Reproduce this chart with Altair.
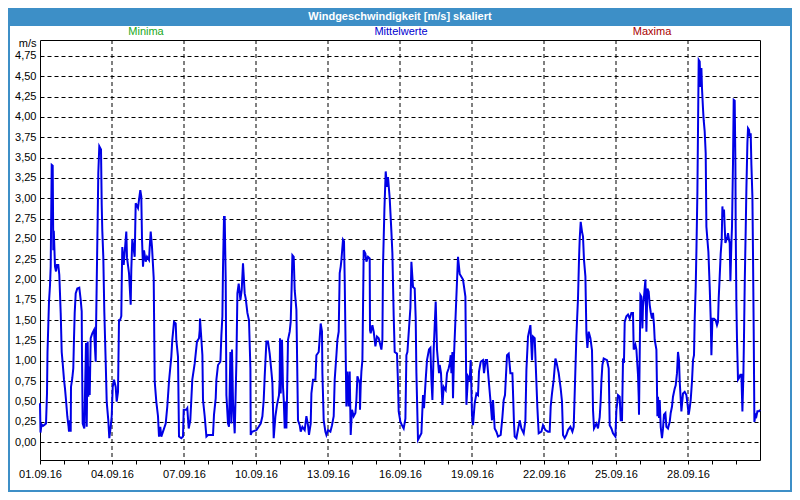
import json
import pandas as pd
import altair as alt

# ---- data (hours since 01.09.2016 00:00, wind speed m/s) ----
hours = [
    0, 0.5, 1.5, 3, 5, 6, 7, 7.5, 9, 10, 10.7, 11.7, 12.7, 13.3, 13.8, 15, 16, 17, 18.3, 19.3,
    20.7, 21.7, 22.7, 24, 25, 26, 27.3, 28.5, 29, 30, 30.7, 31, 32.3, 33.3, 34, 34.7, 35.7, 37.3,
    39.3, 40.7, 41.7, 42, 42.7, 44.3, 46, 46.7, 47.7, 48.3, 49, 49.7, 50.7, 52.3, 54, 55.7, 56,
    56.7, 57.7, 58.3, 59.3, 61, 61.7, 62.3, 63.3, 64.3, 65.7, 66.7, 68.3, 69.3, 70.7, 71.7, 72.7,
    74, 75.7, 76.7, 78, 79, 80,
    81.3, 81.7, 82.3, 83.7, 86.3, 87, 89, 90.7, 91.3, 92.3, 94.7, 95.7, 98, 99, 100.3, 101.3, 102,
    103, 104, 105.7, 107, 109, 109.7, 110.7, 112, 113.7, 114.7, 116.3, 118, 119, 120.3, 121.3, 123,
    125.7, 127.3, 129, 131.3, 132.3, 134, 135.7, 136.3, 138, 139, 141.3, 143, 143.7, 146.3, 147.3,
    148.7, 150.3, 151.3, 152.3, 154.7, 157, 159, 159.7,
    160, 161.4, 162.4, 163, 164.7, 166.4, 168, 173, 174, 175.7, 176.4, 178, 180.4, 181.4, 182.4,
    183, 184, 184.7, 185.7, 186.4, 188, 189, 190.4, 191.4, 192, 193, 194.7, 196.4, 197.4, 198.7,
    200.4, 201.7, 203, 204.7, 205.7, 207.4, 209, 210.4, 210.7, 212, 216.4, 218.7, 220.7, 222.4,
    223.7, 224.7, 226.4, 228, 229.7, 231.4, 232.4, 233.7, 235.4, 237, 239, 239.7,
    240, 240.7, 242, 243, 243.7, 244.7, 245.5, 246.4, 247, 248, 249.7, 250.7, 251.4, 252.4, 253.7,
    254.7, 256.4, 258, 259.7, 260.7, 262.4, 264.7, 266.4, 268, 269, 270.7, 271.4, 273, 275.4,
    276.4, 278.7, 279.7, 280.7, 282, 282.4, 283.7, 285.4, 286.4, 288, 290.4, 292, 293.7, 294.7,
    296.4, 297.4, 298.7, 299.7, 300.7, 301.4, 303, 304, 304.7, 306.4, 307.4, 308.7, 309.7, 310.7,
    312, 313.7, 315.4, 316.4, 317.4, 319.7,
    320, 320.7, 321.4, 322.4, 323.7, 325.4, 326.4, 328, 329.7, 330, 330.7, 332.4, 333.7, 335.4,
    337, 338.7, 341.4, 342.4, 343, 344.4, 345.7, 347, 348, 349.7, 351.4, 352.4, 353.7, 354.7, 357,
    358, 358.7, 360.4, 362, 363.7, 365.4, 366.4, 367.4, 369, 370.4, 371.4, 373, 374.7, 375.7,
    376.4, 378, 379.7, 381.4, 383, 384, 385.7, 387, 389, 390.4, 391.4, 392.4, 393.7, 395.7, 397,
    399, 399.7,
    401, 402.4, 403.7, 405.7, 407, 408.7, 409.7, 410.7, 411.4, 412.4, 413, 414, 418, 419.7, 423,
    425.4, 426.4, 428, 429.7, 430.7, 432, 433, 434.7, 436.4, 438, 439, 440.7, 443, 444, 445.7, 447,
    450.4, 452, 453, 454.7, 456.4, 458, 460.7, 462.4, 463.7, 465, 467, 468.7, 470.4, 472.4, 474,
    474.7, 476.4, 479.7, 481.4, 483.7, 485.4, 486.4, 488, 490.4, 492, 493, 494.7, 497.4, 498.7,
    501.4, 503, 505.4, 508, 509.7, 510.7, 512, 513.7, 515.4, 516.4, 518.7, 520.7, 522, 523, 524.7,
    526.4, 528, 530.4, 532.4, 533.7, 536.4, 538, 539, 539.7, 540.7, 542, 543, 544, 545.4, 546.4,
    547.4, 548.7, 550.4, 552, 553, 554, 556.4, 558, 559.7,
    560.7, 561.4, 562.4, 563.7, 567, 568.7, 569.7, 571.4, 573, 575.4, 576.4, 577.4, 578, 579.7,
    580.7, 582, 583, 584, 584.7, 586.4, 588, 589.7, 591.4, 593, 593.7, 595.4, 596.4, 598, 598.7,
    599, 600.4, 601.4, 602.4, 603, 604, 605.4, 606.4, 607.4, 608.7, 609.7, 610.7, 612, 613, 614,
    614.7, 616.4, 617.4, 618, 619, 619.7, 620.7, 622, 623, 624, 625.4, 626.4, 628, 629.7, 630.7,
    632, 633, 634.7, 635.7, 637, 638, 639, 639.7, 641.4, 643, 644.7, 646.4, 647.4, 648.7, 649.7,
    650.7, 652, 653, 654, 654.7, 655.7, 656.4, 657.4, 658, 658.7, 659.7, 660.4, 661.4, 662, 663,
    663.7, 664.7, 665.7, 666.4, 667.4, 668.4, 669.7, 670.7, 671.4, 672.4, 674, 675.7, 677, 678,
    678.7, 679.7, 680.7, 681.7, 682.4, 683, 684, 684.7, 685.4, 686.4, 687.4, 688, 689, 689.7,
    690.4, 691.4, 692, 693, 693.7, 694.7, 695.4, 695.7, 696.4, 697, 698, 699, 700.4, 701.4, 702.4,
    703.4, 704, 704.7, 705.7, 706.4, 707.4, 708, 709, 709.7, 710.7, 711.4, 712.4, 713, 713.7,
    714.4, 715.4, 716.4, 717.4, 719, 720,
]
speed = [
    0.48, 0.12, 0.22, 0.2, 0.22, 0.23, 0.6, 1.11, 1.73, 1.93, 2.16, 3.41, 3.4, 2.36, 2.6, 2.16, 2.1, 2.18, 2.18, 2.06,
    1.59, 1.11, 0.97, 0.77, 0.66, 0.52, 0.32, 0.2, 0.13, 0.27, 0.13, 0.68, 0.79, 0.91, 1.28, 1.59, 1.83, 1.89,
    1.9, 1.75, 1.61, 1.05, 0.23, 0.17, 1.22, 0.19, 1.24, 0.56, 0.93, 0.58, 1.28, 1.34, 1.38, 0.99, 1.36,
    1.95, 2.77, 3.31, 3.64, 3.6, 2.92, 2.6, 2.28, 1.61, 0.99, 0.5, 0.27, 0.05, 0.19, 0.32, 0.68,
    0.77, 0.68, 0.5, 0.62, 1.5, 1.5,
    1.55, 1.95, 2.4, 2.18, 2.59, 2.27, 2.08, 1.69, 2.12, 2.5, 2.28, 2.94, 2.88, 2.98, 3.1, 3.02, 2.5,
    2.16, 2.36, 2.22, 2.28, 2.24, 2.4, 2.59, 2.4, 2.02, 0.75, 0.5, 0.32, 0.07, 0.19, 0.07, 0.13,
    0.23, 0.44, 0.75, 1.05, 1.26, 1.48, 1.46, 1.26, 1.05, 0.07, 0.05, 0.07, 0.4, 0.4, 0.42,
    0.17, 0.27, 0.52, 0.77, 0.97, 1.24, 1.28, 1.38,
    1.52, 1.26, 1.07, 0.52, 0.32, 0.07, 0.09, 0.09, 0.34, 0.54, 0.77, 0.95, 0.99, 1.32, 1.55,
    2.14, 2.77, 2.77, 2.0, 0.58, 0.23, 0.19, 1.11, 0.23, 1.14, 0.5, 0.11, 0.99, 1.83, 1.95,
    1.75, 1.87, 2.2, 1.83, 1.77, 1.59, 1.5, 0.91, 0.09, 0.13, 0.15, 0.19, 0.23, 0.32,
    0.52, 0.81, 1.24, 1.24, 1.09, 0.87, 0.73, 0.05, 0.32, 0.46, 0.58, 0.77,
    1.28, 0.6, 1.26, 0.68, 0.54, 0.17, 0.5, 0.17, 0.55, 1.26, 1.36, 1.48, 1.79, 2.3, 2.28,
    1.87, 1.63, 0.27, 0.21, 0.13, 0.19, 0.15, 0.32, 0.21, 0.09, 0.23, 0.6, 0.77, 0.77,
    1.07, 1.11, 1.28, 1.46, 1.36, 0.85, 0.27, 0.13, 0.09, 0.15, 0.13, 0.21, 0.32, 0.77,
    1.07, 1.26, 1.36, 2.08, 2.16, 2.24, 2.49, 2.47, 2.0, 0.44, 0.87, 0.44, 0.87, 0.09,
    0.4, 0.32, 0.36, 0.52, 0.81, 0.73,
    0.4, 0.7, 0.87, 1.01, 2.36, 2.32, 2.22, 2.28, 2.26, 1.38, 1.34, 1.44, 1.36, 1.18,
    1.3, 1.28, 1.14, 1.26, 2.16, 2.86, 3.33, 3.14, 3.26, 3.0, 2.59, 2.32, 1.55, 1.11, 1.09,
    0.73, 0.38, 0.25, 0.21, 0.17, 0.29, 1.07, 1.11, 1.4, 1.65, 2.22, 1.91, 1.89, 1.52,
    0.85, 0.03, 0.07, 0.11, 0.58, 0.42, 0.77, 1.01, 1.14, 1.16, 0.77, 0.52, 1.14, 1.73, 1.14,
    0.85, 0.95,
    0.85, 0.46, 0.68, 0.64, 0.85, 0.91, 0.97, 1.07, 0.85, 1.11, 0.54, 1.07, 2.28, 2.07, 2.0,
    1.79, 0.46, 0.81, 0.77, 1.01, 0.33, 0.21, 0.48, 0.6, 0.58, 0.87, 0.99, 1.01, 0.85, 1.01, 1.01,
    0.52, 0.27, 0.52, 0.17, 0.13, 0.07, 0.09, 0.31, 0.52, 0.58, 1.07, 1.09, 0.85, 0.85, 0.23,
    0.07, 0.05, 0.27, 0.17, 0.11, 0.27, 0.89, 1.3, 1.44, 1.01, 1.3, 1.28, 0.42, 0.11,
    0.13, 0.21, 0.15, 0.13, 0.13, 0.44, 0.6, 0.77, 1.03, 0.99, 0.85, 0.66, 0.5, 0.09, 0.05,
    0.09, 0.15, 0.19, 0.13, 0.19, 1.31, 1.77, 2.24, 2.5, 2.71, 2.59, 2.53, 2.24, 2.04, 1.34,
    1.16, 1.36, 1.28, 1.13, 0.4, 0.17, 0.23, 0.17, 0.31,
    0.52, 0.75, 0.95, 1.03, 1.01, 0.91, 0.21, 0.17, 0.11, 0.07, 0.4, 0.5, 0.58, 0.56,
    0.27, 0.27, 1.01, 1.0, 1.48, 1.55, 1.57, 1.52, 1.59, 1.59, 1.14, 1.2, 1.14, 0.83, 0.56,
    0.34, 1.81, 1.79, 1.4, 1.67, 1.79, 2.0, 1.36, 1.89, 1.85, 1.69, 1.6, 1.52, 1.59, 1.44,
    1.26, 1.14, 0.32, 0.56, 0.3, 0.52, 0.19, 0.05, 0.17, 0.34, 0.36, 0.19, 0.17, 0.25, 0.36,
    0.44, 0.56, 0.66, 0.7, 0.85, 1.11, 1.01, 0.75, 0.38, 0.6, 0.62, 0.58, 0.48, 0.34, 0.42,
    0.52, 0.75, 1.01, 1.07, 1.52, 1.91, 2.34, 3.08, 3.84, 4.7, 4.68, 4.37, 4.6, 4.35, 4.1,
    3.96, 3.82, 3.55, 2.65, 2.49, 2.34, 1.91, 1.52, 1.07, 1.52, 1.52, 1.5, 1.44, 1.48,
    1.77, 2.04, 2.32, 2.49, 2.9, 2.77, 2.86, 2.65, 2.45, 2.49, 2.53, 2.57, 2.49, 2.45,
    1.98, 2.45, 2.65, 3.43, 4.21, 4.2, 3.43, 2.65, 1.69, 1.26, 0.77, 0.79, 0.83, 0.83, 0.38,
    0.83, 1.3, 1.93, 2.61, 3.12, 3.68, 3.86, 3.84, 3.76, 3.8, 3.41, 3.02, 2.32, 1.38,
    0.25, 0.34, 0.32, 0.38, 0.38, 0.4,
]

x_tick_hours = list(range(0, 720, 24))
x_tick_labels = ["01.09.16", "04.09.16", "07.09.16", "10.09.16", "13.09.16",
                 "16.09.16", "19.09.16", "22.09.16", "25.09.16", "28.09.16"]
grid_hours = [72, 144, 216, 288, 360, 432, 504, 576, 648]
y_ticks = [i * 0.25 for i in range(20)]
title_text = "Windgeschwindigkeit [m/s] skaliert"
series_names = ["Minima", "Mittelwerte", "Maxima"]
series_colors = ["#1aa81a", "#0000d0", "#a80000"]
unit_label = "m/s"

assert len(hours) == len(speed)
df = pd.DataFrame({"h": hours, "v": speed})

FONT = "Liberation Sans"
BAR = "#3d8fc7"

xscale = alt.Scale(domain=[0, 720], nice=False, zero=False)
yscale = alt.Scale(domain=[-0.218, 4.946], nice=False, zero=False)

label_expr_x = ("datum.value % 72 == 0 ? " + json.dumps(x_tick_labels).replace('"', "'")
                + "[datum.value / 72] : ''")

x_axis = alt.Axis(values=x_tick_hours, labelExpr=label_expr_x, grid=False, domain=False,
                  tickSize=4, tickColor="black", labelColor="black", labelFont=FONT,
                  labelFontSize=11, labelPadding=4, labelFlush=False, labelOverlap=False,
                  title=None)
y_axis = alt.Axis(values=y_ticks, labelExpr="replace(format(datum.value, '.2f'), '.', ',')",
                  grid=True, gridDash=[4, 3], gridColor="black", gridOpacity=1, gridWidth=1,
                  domain=False, ticks=False, labelPadding=4, labelColor="black",
                  labelFont=FONT, labelFontSize=11, labelOverlap=False,
                  title=unit_label, titleAngle=0, titleAlign="right", titleBaseline="alphabetic",
                  titleX=-4, titleY=6, titleFont=FONT, titleFontSize=11,
                  titleFontWeight="normal", titleColor="black")

X = alt.X("h:Q", scale=xscale, axis=x_axis)

vgrid = alt.Chart(pd.DataFrame({"h": grid_hours})).mark_rule(
    color="black", strokeDash=[4, 3], strokeWidth=1
).encode(x=X)

line = alt.Chart(df).mark_line(color="#0000e6", strokeWidth=2).encode(
    x=X, y=alt.Y("v:Q", scale=yscale, axis=y_axis)
)

one = pd.DataFrame({"k": [0]})
title_bar = alt.Chart(one).mark_rect(color=BAR).encode(
    x=alt.value(-32), x2=alt.value(752), y=alt.value(-32), y2=alt.value(-14)
)
border = alt.Chart(one).mark_rect(filled=False, stroke=BAR, strokeWidth=2).encode(
    x=alt.value(-31), x2=alt.value(751), y=alt.value(-31), y2=alt.value(451)
)
title = alt.Chart(pd.DataFrame({"t": [title_text]})).mark_text(
    font=FONT, fontSize=11, fontWeight="bold", color="white", align="center", baseline="middle"
).encode(text="t:N", x=alt.value(360), y=alt.value(-23))

legend_x = [106, 361, 612]
legend_layers = []
for name, col, lx in zip(series_names, series_colors, legend_x):
    legend_layers.append(
        alt.Chart(pd.DataFrame({"t": [name]})).mark_text(
            font=FONT, fontSize=11, color=col, align="center", baseline="middle"
        ).encode(text="t:N", x=alt.value(lx), y=alt.value(-8))
    )

chart = alt.layer(vgrid, line, title_bar, border, title, *legend_layers).properties(
    width=720, height=420,
    autosize=alt.AutoSizeParams(type="none"),
    padding={"left": 32, "top": 32, "right": 32, "bottom": 32},
    background="white",
).configure_view(stroke="black", strokeWidth=1)

chart.save("out.html", embed_options={"renderer": "svg", "actions": False})
